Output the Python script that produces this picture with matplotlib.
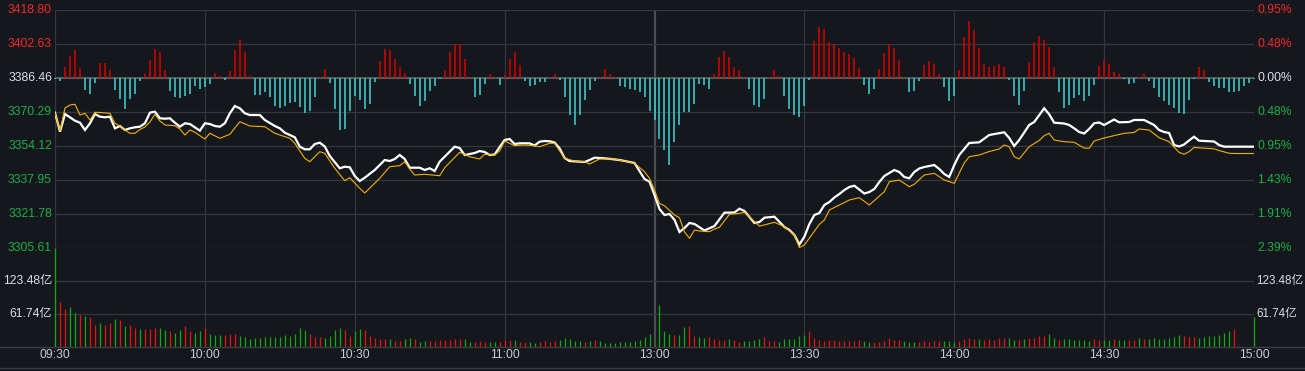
import numpy as np
import matplotlib
matplotlib.use('Agg')
import matplotlib.pyplot as plt
from matplotlib.lines import Line2D

# ---- chart values (Shanghai index intraday) ----
prev_close = 3386.46
price_levels = [3305.61, 3321.78, 3337.95, 3354.12, 3370.29, 3386.46, 3402.63, 3418.80]
pct_labels = ['2.39%', '1.91%', '1.43%', '0.95%', '0.48%', '0.00%', '0.48%', '0.95%']
vol_levels = [61.74, 123.48]
vol_labels = ['61.74亿', '123.48亿']
vol_top = 185.22
time_ticks = [0, 30, 60, 90, 120, 150, 180, 210, 240]
time_labels = ['09:30', '10:00', '10:30', '11:00', '13:00', '13:30', '14:00', '14:30', '15:00']

# price line (minute index, index value)
price_min = [0, 1, 2, 3, 4, 5, 6, 7, 8, 9, 10, 11, 12, 13, 14, 15, 16, 17, 18, 19,
             20, 21, 22, 23, 24, 25, 26, 27, 28, 29, 30, 31, 32, 33, 34, 35, 36, 37, 38, 39,
             41, 42, 44, 45, 46, 48, 49, 50, 51, 52, 53, 54, 55, 57, 58, 59, 60, 61, 62, 64,
             66, 67, 68, 69, 70, 71, 73, 74, 75, 76, 77, 79, 80, 81, 82, 84, 85, 86, 87, 88,
             89, 90, 91, 92, 93, 95, 96, 97, 98, 99, 100, 101, 102, 103, 106, 107, 108, 110, 113, 116,
             117, 118, 119, 120, 121, 122, 123, 124, 125, 126, 127, 128, 130, 132, 134, 136, 137, 138, 140, 141,
             142, 144, 146, 147, 148, 149, 150, 151, 152, 153, 154, 155, 156, 157, 158, 159, 160, 162, 163, 164,
             165, 166, 167, 168, 169, 170, 171, 172, 173, 174, 176, 177, 178, 179, 180, 181, 182, 183, 185, 187,
             190, 191, 192, 193, 195, 196, 198, 199, 200, 202, 203, 204, 205, 206, 207, 208, 209, 210, 212, 213,
             215, 216, 218, 220, 221, 222, 223, 224, 225, 226, 227, 228, 229, 232, 233, 234, 240]
price_val = [3369.96, 3360.92, 3369.34, 3367.77, 3366.15, 3365.20, 3361.73, 3364.92, 3369.34, 3368.06,
             3367.77, 3368.06, 3362.54, 3363.63, 3361.73, 3362.54, 3363.01, 3363.30, 3364.92, 3369.96,
             3370.43, 3367.30, 3367.11, 3367.30, 3365.20, 3363.30, 3364.92, 3364.58, 3363.01, 3361.40,
             3364.92, 3364.58, 3363.63, 3363.30, 3364.92, 3369.67, 3373.14, 3372.05, 3369.67, 3368.86,
             3368.86, 3366.49, 3363.63, 3362.54, 3360.45, 3358.26, 3353.79, 3352.55, 3352.55, 3355.07,
             3355.69, 3353.88, 3349.37, 3343.51, 3344.28, 3344.00, 3339.85, 3337.47, 3339.04, 3342.71,
             3347.45, 3346.98, 3347.94, 3349.84, 3347.94, 3343.80, 3343.80, 3342.71, 3343.51, 3342.23,
             3346.66, 3351.41, 3353.79, 3353.17, 3349.84, 3350.79, 3351.74, 3351.27, 3349.84, 3350.08,
             3353.64, 3356.97, 3357.45, 3355.07, 3355.40, 3355.40, 3354.36, 3356.17, 3356.50, 3356.36,
             3355.78, 3353.03, 3348.41, 3346.98, 3346.51, 3347.46, 3348.56, 3348.27, 3347.46, 3346.04,
             3342.23, 3338.42, 3337.14, 3330.82, 3324.15, 3321.30, 3321.78, 3319.00, 3313.22, 3315.13,
             3317.50, 3317.03, 3313.93, 3316.07, 3322.40, 3322.50, 3324.30, 3323.21, 3317.50, 3317.97,
             3320.02, 3320.50, 3315.60, 3314.18, 3311.80, 3307.28, 3310.98, 3317.03, 3321.30, 3322.25,
             3326.06, 3327.49, 3329.63, 3331.29, 3333.19, 3334.62, 3335.24, 3331.53, 3332.24, 3333.67,
             3337.00, 3339.85, 3341.28, 3342.70, 3341.75, 3339.38, 3338.76, 3341.75, 3343.42, 3344.13,
             3345.08, 3343.18, 3340.81, 3339.38, 3345.08, 3349.84, 3352.69, 3355.55, 3355.88, 3359.35,
             3360.64, 3357.93, 3354.12, 3356.97, 3364.11, 3365.53, 3372.05, 3369.20, 3365.20, 3364.82,
             3364.11, 3362.54, 3360.78, 3360.07, 3362.21, 3364.92, 3365.30, 3364.11, 3366.72, 3365.39,
             3365.53, 3366.49, 3366.49, 3364.11, 3361.73, 3360.78, 3360.31, 3354.60, 3353.88, 3354.83,
             3356.74, 3358.54, 3356.64, 3356.26, 3354.60, 3353.79, 3353.79]

# average price line
avg_min = [0, 1, 2, 3, 4, 5, 6, 7, 8, 9, 11, 12, 13, 14, 15, 16, 17, 18, 19, 20,
           21, 22, 24, 25, 26, 27, 28, 30, 31, 33, 35, 37, 39, 42, 44, 47, 48, 50, 51, 53,
           54, 56, 58, 59, 61, 62, 65, 67, 69, 70, 71, 72, 74, 77, 78, 81, 83, 85, 86, 88,
           89, 90, 92, 94, 96, 97, 99, 100, 102, 104, 106, 107, 109, 112, 116, 118, 119, 120, 121, 122,
           124, 125, 126, 127, 128, 129, 131, 132, 133, 135, 137, 138, 141, 144, 146, 148, 149, 150, 153, 154,
           155, 157, 159, 161, 163, 166, 167, 169, 171, 172, 174, 176, 178, 180, 182, 183, 185, 187, 189, 190,
           191, 192, 193, 195, 197, 198, 199, 200, 202, 204, 206, 207, 208, 210, 212, 214, 216, 217, 219, 221,
           223, 225, 226, 227, 228, 230, 232, 233, 235, 236, 240]
avg_val = [3369.81, 3361.25, 3372.19, 3373.62, 3373.95, 3368.86, 3369.67, 3366.49, 3370.15, 3370.05,
           3369.67, 3364.92, 3363.63, 3361.73, 3360.16, 3360.16, 3361.97, 3363.16, 3365.54, 3369.20,
           3366.01, 3364.11, 3363.77, 3362.20, 3359.35, 3361.73, 3360.64, 3357.45, 3360.16, 3357.78,
           3359.68, 3365.68, 3363.63, 3363.30, 3360.16, 3357.78, 3355.40, 3348.27, 3346.65, 3351.41,
           3350.65, 3343.51, 3337.62, 3339.04, 3334.00, 3331.77, 3338.76, 3344.28, 3344.75, 3346.65,
           3343.18, 3340.33, 3340.66, 3339.99, 3343.80, 3351.12, 3349.03, 3347.94, 3350.17, 3349.84,
           3351.74, 3356.50, 3354.26, 3354.60, 3354.26, 3353.79, 3355.40, 3355.40, 3348.27, 3346.98,
           3346.65, 3345.56, 3347.94, 3347.94, 3345.89, 3341.90, 3338.76, 3333.19, 3326.78, 3325.73,
           3321.30, 3320.02, 3313.22, 3310.22, 3314.18, 3313.70, 3313.37, 3314.65, 3315.45, 3321.64,
           3322.11, 3322.59, 3315.98, 3317.83, 3315.74, 3311.79, 3305.80, 3307.04, 3316.88, 3318.92,
           3323.68, 3326.06, 3328.44, 3329.53, 3326.06, 3332.39, 3337.14, 3337.95, 3334.76, 3335.91,
           3340.33, 3341.14, 3337.95, 3336.38, 3346.03, 3349.03, 3349.84, 3351.50, 3352.69, 3354.60,
           3353.79, 3349.03, 3347.94, 3353.79, 3356.74, 3359.02, 3360.16, 3356.97, 3356.17, 3355.88,
           3353.17, 3353.03, 3356.50, 3357.93, 3359.02, 3360.16, 3360.54, 3362.20, 3361.73, 3358.07,
           3356.17, 3351.12, 3350.17, 3351.41, 3353.41, 3353.07, 3352.78, 3351.97, 3350.69, 3350.55,
           3350.55]

# buying / selling strength bars around the previous close (one per minute)
force = [-1, -3, 11, 22, 28, 10, -12, -16, -5, 15, 15, 8, -12, -21, -31, -21, -16, -3, 4, 18,
         29, 26, 8, -13, -19, -20, -18, -16, -8, -11, -9, -6, 5, 2, -2, 7, 28, 38, 26, 2,
         -17, -17, -14, -19, -28, -30, -28, -25, -24, -29, -35, -33, -19, 1, 9, -5, -31, -52, -51, -33,
         -18, -22, -31, -26, -4, 17, 29, 28, 19, 11, 5, -6, -18, -28, -23, -13, -8, -1, 8, 26,
         34, 34, 19, 1, -19, -17, -6, 4, 1, -7, 3, 19, 26, 13, -3, -8, -7, -4, -4, 1,
         4, -2, -19, -37, -47, -37, -22, -12, -3, 1, 9, 4, 1, -8, -9, -11, -12, -14, -19, -33,
         -42, -61, -72, -87, -64, -47, -34, -34, -26, -6, -7, -11, 4, 21, 27, 21, 11, 8, 1, -11,
         -27, -29, -21, 1, 8, 2, -18, -31, -37, -39, -28, -2, 37, 51, 49, 36, 34, 30, 26, 24,
         20, 10, -7, -16, -11, 9, 25, 34, 30, 18, 1, -14, -13, -3, 13, 17, 14, 4, -9, -23,
         -18, 8, 41, 57, 48, 30, 14, 11, 12, 14, 11, -2, -18, -27, -13, 16, 36, 42, 38, 31,
         11, -14, -30, -27, -20, -17, -23, -18, -7, 12, 18, 14, 6, 4, -1, -6, -5, 1, 4, -3,
         -10, -19, -23, -27, -30, -35, -36, -22, -1, 11, 8, -4, -8, -10, -10, -14, -14, -13, -8, -5,
         -1]

# turnover per minute, 亿
volume = [185, 85, 71, 74, 63, 60, 58, 56, 42, 44, 42, 44, 52, 50, 39, 42, 35, 33, 33, 33,
          35, 35, 31, 29, 27, 31, 39, 29, 27, 29, 35,
          25, 23, 23, 23, 25, 25, 21, 19, 15, 17, 17, 19, 19, 19, 19, 23, 21, 25, 35, 31,
          25, 19, 19, 17, 21, 31, 35, 31, 21, 29, 33, 31, 21, 17, 15, 15, 15, 12, 12, 15,
          17, 15, 10, 12, 12, 12, 13, 13, 13, 15, 15, 15, 10, 10, 12, 10, 10, 10, 10, 13,
          13, 13, 10, 10, 10, 8, 10, 12, 10,
          12, 13, 17, 15, 12, 12, 10, 12, 13, 12, 8, 8, 8, 10, 10, 10, 12, 13, 19, 25, 2,
          79, 29, 25, 23, 23, 37, 40, 21, 19, 17, 19, 15, 13, 13, 15, 13, 10, 12, 12, 13,
          15, 19, 12, 12, 10, 15, 15, 15, 21, 23, 29, 17, 13, 12, 13, 13, 12, 12, 12, 12,
          13, 12, 10, 10, 10, 12, 17, 13, 13, 12, 10, 10, 10, 12, 10, 12, 12, 12, 12, 10,
          12, 15, 17, 15, 15, 13, 15, 13,
          17, 17, 17, 13, 13, 15, 17, 17, 21, 21, 25, 17, 13, 15, 15, 13, 13, 13, 12, 15,
          13, 13, 13, 15, 13, 13, 13, 13, 17, 15, 15, 17, 15, 15, 17, 19, 23, 21, 19, 19,
          17, 19, 21, 21, 23, 27, 29, 33, 2, 0, 0, 57]
vol_side = ("grrggrgrrg" "rrgrgrrgrr" "rggrggrrgg" "r"
            "gggrrrgggg" "gggggggggg" "rrrggggrrg" "grrrrrgrrg" "grggrrrrrr" "rggrrrggrr" "rgrrggrrr"
            "rgggggrgrg" "gggggggggg" "g"
            "gggrggrrgg" "rrrrgrrggg" "grrrgggggg" "rrrrrrrrrr" "rggrrrrrrg" "ggrrrrrggg" "rrrrgrrr"
            "rrggrgrrrr" "ggrggggggr" "rggrggrrgr" "gggggggrrr" "gggggggrrr" "rg")

# ---- style ----
BG = '#14171c'
GRID = '#34373c'
RED_TXT = '#f02a2a'
GRN_TXT = '#1fae48'
WHT_TXT = '#d8dee8'
FONT = ['Liberation Sans', 'Noto Sans CJK SC']
FS = 8.7
W, H = 1305, 371

fig = plt.figure(figsize=(W / 100, H / 100), dpi=100, facecolor=BG)
ax = fig.add_axes([55 / W, 1 - 248 / H, 1199 / W, 238 / H])
axv = fig.add_axes([55 / W, 1 - 347 / H, 1199 / W, 99 / H])

for a in (ax, axv):
    a.set_facecolor(BG)
    a.set_xlim(0, 240)
    for s in a.spines.values():
        s.set_visible(False)
    a.set_xticks([])
    a.set_yticks([])
    for t in time_ticks:
        if t == 120:
            a.axvline(t, color='#4a4d52', lw=1.6, zorder=1)
        else:
            a.axvline(t, color=GRID, lw=0.9, zorder=1)

ax.set_ylim(price_levels[0], price_levels[-1])
axv.set_ylim(0, vol_top)

for lvl in price_levels:
    if lvl == prev_close:
        ax.axhline(lvl, color='#55585c', lw=1.5, zorder=1)
    else:
        ax.axhline(lvl, color=GRID, lw=0.9, zorder=1)
for lvl in vol_levels:
    axv.axhline(lvl, color=GRID, lw=0.9, zorder=1)

# strength bars
unit = (price_levels[-1] - price_levels[0]) / 238.0
f = np.array(force, dtype=float)
idx = np.arange(len(f))
fcol = np.where(f > 0, '#cc0000', '#3ec6c8')
ax.vlines(idx, prev_close, prev_close + f * unit, colors=fcol, lw=1.2, zorder=2, clip_on=False)

# price and average lines
ax.plot(price_min, price_val, color='white', lw=1.6, zorder=4, solid_joinstyle='miter')
ax.plot(avg_min, avg_val, color='#f5b000', lw=0.8, zorder=5)

# volume bars
v = np.array(volume, dtype=float)
vcol = ['#ee1111' if c == 'r' else '#12a812' for c in vol_side]
axv.vlines(np.arange(len(v)), 0, v, colors=vcol, lw=0.9, zorder=2, clip_on=False)

# axis labels
lt = ax.get_yaxis_transform()
for lvl, pct in zip(price_levels, pct_labels):
    if lvl > prev_close:
        c = RED_TXT
    elif lvl < prev_close:
        c = GRN_TXT
    else:
        c = WHT_TXT
    ax.text(-3.0 / 1199, lvl, '%.2f' % lvl, color=c, ha='right', va='center',
            fontsize=FS, family=FONT, transform=lt)
    ax.text(1 + 3.0 / 1199, lvl, pct, color=c, ha='left', va='center',
            fontsize=FS, family=FONT, transform=lt)

vt = axv.get_yaxis_transform()
for lvl, lab in zip(vol_levels, vol_labels):
    axv.text(-3.0 / 1199, lvl, lab, color=WHT_TXT, ha='right', va='center',
             fontsize=FS, family=FONT, transform=vt)
    axv.text(1 + 2.0 / 1199, lvl, lab, color=WHT_TXT, ha='left', va='center',
             fontsize=FS - 0.3, family=FONT, transform=vt)

xt = axv.get_xaxis_transform()
for t, lab in zip(time_ticks, time_labels):
    axv.text(t, -8.5 / 99, lab, color='#c4ccd8', ha='center', va='center',
             fontsize=FS, family=FONT, transform=xt)

# frame lines across the whole width
for ypix in (347, 368):
    fig.add_artist(Line2D([0, 1], [1 - ypix / H] * 2, color='#3a3d42', lw=1.0,
                          transform=fig.transFigure))

fig.savefig('out.png', dpi=100, facecolor=BG)
